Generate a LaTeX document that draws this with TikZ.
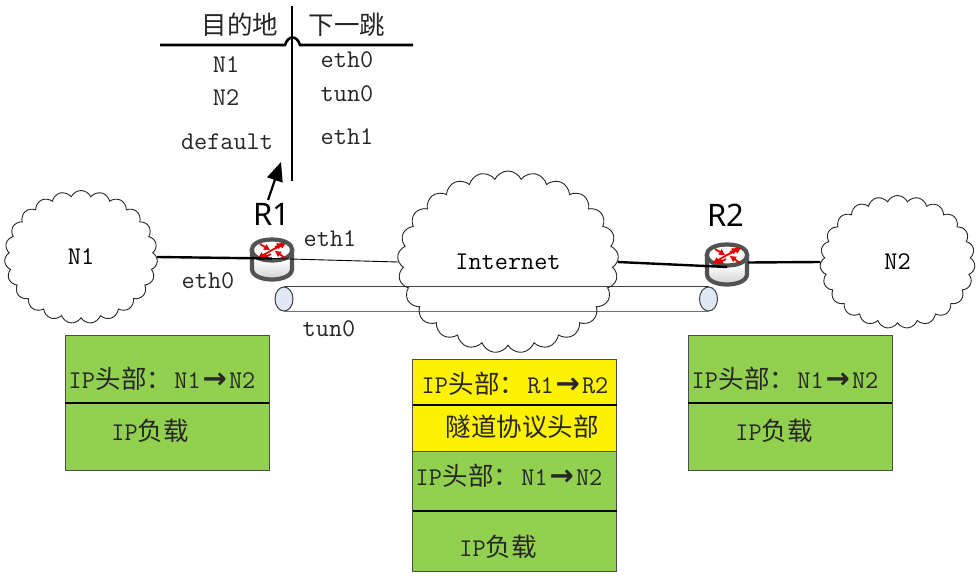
\documentclass[tikz,border=0pt]{standalone}
\usepackage{fontspec}
\usetikzlibrary{shapes.symbols,shapes.geometric,arrows.meta}
\newfontfamily\cjkf{Noto Sans CJK SC}[Scale=1]
\newfontfamily\arrf{DejaVu Sans}[Scale=1]
\newfontfamily\sansf{Noto Sans}[Scale=1]
\setmonofont{Latin Modern Mono}
\newcommand{\tx}[1]{{\ttfamily #1}}
\newcommand{\zh}[1]{{\cjkf #1}}
\newcommand{\arw}{{\fontsize{29}{29}\selectfont\arrf\bfseries →}}
\newcommand{\hdr}[2]{\tx{IP}\hspace{1pt}\zh{头部：}\hspace{2pt}\tx{#1}\hspace{2pt}\arw\hspace{2pt}\tx{#2}}
\newcommand{\routerbody}{%
  \fill[white] (-20,-8) -- (-20,11) .. controls (-20,25) and (20,25) .. (20,11) -- (20,-8) -- cycle;
  \shade[top color=white,bottom color=black!22] (-20,2) -- (-20,11) .. controls (-20,25) and (20,25) .. (20,11) -- (20,2) .. controls (20,8) and (-20,8) .. (-20,2) -- cycle;
  \draw[routerline] (-20,-8) -- (-20,11) .. controls (-20,25) and (20,25) .. (20,11) -- (20,-8);
  \draw[routerline] (0,-18.5) .. controls (-27,-18.5) and (-27,2.5) .. (0,2.5) .. controls (27,2.5) and (27,-18.5) .. (0,-18.5) -- cycle;
  \foreach \ax/\ay in {14/-15,-14/0}{\draw[redarrow] (0,-8) -- (\ax,\ay);}
  \foreach \ax/\ay/\bx/\by in {-12/-14/-2/-8,13/0/3/-7,-1/-4/-10/1,3/-11/11/-14}{\draw[redarrow] (\ax,\ay) -- (\bx,\by);}
}
\tikzset{
  x=1pt,y=-1pt,
  netcloud/.style={cloud,draw=black!85,line width=.9pt,cloud puffs=23,cloud puff arc=130,inner sep=0pt,font=\fontsize{25.5}{25.5}\selectfont\ttfamily},
  routerline/.style={draw=black!68,line width=4.2pt},
  redarrow/.style={draw=red!90!black,line width=1.8pt,-{Triangle[length=6pt,width=6pt]}},
  routernode/.style={minimum width=42pt,minimum height=42pt,inner sep=0pt},
  lbl/.style={inner sep=0pt,text=black!85,font=\fontsize{25.5}{25.5}\selectfont\ttfamily},
  rlabel/.style={inner sep=0pt,text=black,font=\fontsize{31}{31}\selectfont\sansf},
  stack/.style={draw=black!70,line width=1pt,minimum width=204pt,inner sep=0pt,outer sep=0pt},
  green box/.style={stack,fill=greenfill},
  yellow box/.style={stack,fill=yellow},
  divider/.style={black,line width=2.2pt},
  tableline/.style={black,line width=2.6pt},
  tube/.style={draw=black!75,line width=1pt,fill=tubefill,ellipse,minimum width=18pt,minimum height=24pt,inner sep=0pt},
  thick link/.style={black,line width=2.4pt},
}
\definecolor{greenfill}{HTML}{92D050}
\definecolor{tubefill}{HTML}{E1E8F5}
\begin{document}
\begin{tikzpicture}
\useasboundingbox (0,0) rectangle (979,577);
\fill[white] (0,0) rectangle (979,577);
% table
\coordinate (hl) at (160,45); \coordinate (hr) at (413,45);
\coordinate (ha) at (285,45); \coordinate (hb) at (300,45);
\coordinate (vt) at (292,6); \coordinate (vb) at (292,181);
\draw[tableline] (hl) -- (ha) .. controls (288,35) and (297,35) .. (hb) -- (hr);
\draw[tableline] (vt) -- (vb);
\node[lbl] (th1) at (240,25) {\zh{目的地}};
\node[lbl] (th2) at (347,25) {\zh{下一跳}};
\node[lbl] (d1) at (226,65) {N1};
\node[lbl] (d2) at (226,98) {N2};
\node[lbl] (d3) at (227,142) {default};
\node[lbl] (h1) at (347,60) {eth0};
\node[lbl] (h2) at (347,94) {tun0};
\node[lbl] (h3) at (347,137) {eth1};
% tunnel
\node[tube] (T1) at (284,299) {};
\node[tube] (T2) at (708.5,299) {};
\draw[draw=black!75,line width=1pt] (T1.north) -- (T2.north);
\draw[draw=black!55,line width=1.6pt] (T1.south) -- (T2.south);
% clouds
\node[netcloud,minimum width=153pt,minimum height=133pt,aspect=1.05] (N1) at (81,257) {N1};
\node[netcloud,minimum width=155pt,minimum height=133pt,aspect=1.05] (N2) at (897.5,262) {N2};
\node[netcloud,minimum width=221pt,minimum height=182pt,aspect=1.15,cloud puffs=25] (NET) at (508,262) {Internet};
% routers
\begin{scope}[shift={(272,258)}]\routerbody\end{scope}
\begin{scope}[shift={(727,263)}]\routerbody\end{scope}
\node[routernode] (R1) at (272,258) {};
\node[routernode] (R2) at (727,263) {};
\coordinate (R1in) at (272,258.5);
\coordinate (R1out) at (272,258.5);
\coordinate (R2in) at (727,267);
\coordinate (R2out) at (748,262.5);
\draw[thick link] (N1.east) -- (R1in);
\draw[black,line width=.9pt] (R1out) -- (NET.west);
\draw[thick link] (NET.east) -- (R2in);
\draw[thick link] (R2out) -- (N2.west);
\node[rlabel] (R1t) at (272,214) {R1};
\node[rlabel] (R2t) at (726,215) {R2};
\coordinate (atail) at (268,200); \coordinate (ahead) at (281,162);
\draw[black,line width=2.2pt,-{Triangle[length=19pt,width=16pt]}] (atail) -- (ahead);
\node[lbl] (e1) at (330,239) {eth1};
\node[lbl] (e0) at (208,281) {eth0};
\node[lbl] (t0) at (329,329) {tun0};
% left stack
\node[green box,minimum height=68pt] (a1) at (167,369) {};
\node[green box,minimum height=67pt] (a2) at (167,436.5) {};
\draw[divider] (a1.south west) -- (a1.south east);
\node[lbl] at (162,379) {\hdr{N1}{N2}};
\node[lbl] at (150,431) {\tx{IP}\zh{负载}};
% middle stack
\node[yellow box,minimum height=46pt] (b1) at (514.5,382) {};
\node[yellow box,minimum height=46pt] (b2) at (514.5,428) {};
\node[green box,minimum height=60pt] (b3) at (514.5,481) {};
\node[green box,minimum height=60pt] (b4) at (514.5,541) {};
\draw[divider] (b1.south west) -- (b1.south east);
\draw[divider] (b3.south west) -- (b3.south east);
\node[lbl] at (515,384) {\hdr{R1}{R2}};
\node[lbl] at (522,427) {\zh{隧道协议头部}};
\node[lbl] at (509,476) {\hdr{N1}{N2}};
\node[lbl] at (498,547) {\tx{IP}\zh{负载}};
% right stack
\node[green box,minimum height=68pt] (c1) at (790,369) {};
\node[green box,minimum height=67pt] (c2) at (790,436.5) {};
\draw[divider] (c1.south west) -- (c1.south east);
\node[lbl] at (785,379) {\hdr{N1}{N2}};
\node[lbl] at (774,431) {\tx{IP}\zh{负载}};
\end{tikzpicture}
\end{document}
